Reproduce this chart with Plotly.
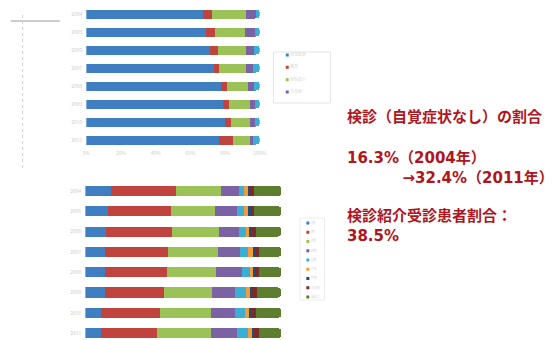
import plotly.graph_objects as go

# ---------------- data ----------------
years = ["2004", "2005", "2006", "2007", "2008", "2009", "2010", "2011"]

top_names = ["自覚症状", "検診", "他院紹介", "その他", "不明"]
top_colors = ["#3F7EC0", "#C0443D", "#9BC257", "#7A62A5", "#3AAFD3"]
top_s1 = [67.0, 69.0, 71.1, 73.4, 77.7, 79.0, 79.7, 76.5]
top_s2 = [5.4, 5.3, 4.9, 3.3, 3.5, 3.4, 3.6, 8.3]
top_s3 = [19.6, 17.3, 16.1, 15.4, 11.8, 12.0, 11.1, 9.6]
top_s4 = [5.7, 5.6, 4.7, 3.8, 3.8, 3.0, 3.0, 1.6]
top_s5 = [2.3, 2.8, 3.2, 4.1, 3.2, 2.6, 2.6, 4.0]
top_series = [top_s1, top_s2, top_s3, top_s4, top_s5]
top_legend_names = ["自覚症状", "検診", "他院紹介", "その他"]

bot_names = ["0期", "I期", "II期", "III期", "IV期", "再発", "不明", "その他", "未記入"]
bot_colors = ["#3F7EC0", "#C0443D", "#9BC257", "#7A62A5", "#3AAFD3",
              "#F39A3A", "#1F4D78", "#7A2B2A", "#5C7E2E"]
bot_s1 = [13.0, 11.4, 10.5, 9.9, 10.2, 9.9, 8.2, 7.9]
bot_s2 = [33.3, 32.1, 33.5, 32.2, 31.3, 30.2, 29.8, 28.4]
bot_s3 = [22.7, 22.5, 24.4, 25.6, 25.4, 24.4, 25.9, 27.7]
bot_s4 = [9.6, 11.3, 9.9, 11.2, 12.9, 12.1, 12.2, 13.3]
bot_s5 = [2.5, 3.8, 3.6, 3.9, 4.1, 5.3, 5.3, 5.5]
bot_s6 = [1.7, 1.7, 1.7, 2.5, 1.4, 2.5, 2.2, 2.5]
bot_s7 = [1.1, 1.6, 1.3, 1.3, 1.3, 0.5, 1.2, 0.8]
bot_s8 = [1.9, 1.7, 2.4, 2.0, 2.0, 2.9, 2.5, 2.5]
bot_s9 = [14.2, 13.9, 12.7, 11.4, 11.4, 12.2, 12.7, 11.4]
bot_series = [bot_s1, bot_s2, bot_s3, bot_s4, bot_s5, bot_s6, bot_s7, bot_s8, bot_s9]

x_ticks = [0, 20, 40, 60, 80, 100]
x_tick_labels = ["0%", "20%", "40%", "60%", "80%", "100%"]

text_blocks = [
    ["検診（自覚症状なし）の割合"],
    ["16.3%（2004年）", "　　　&nbsp;&nbsp;→32.4%（2011年）"],
    ["検診紹介受診患者割合：", "38.5%"],
]

# ---------------- figure ----------------
W, H = 553, 340
FONT = "Noto Sans CJK JP"
TXT_FONT = "DejaVu Sans, Noto Sans CJK JP"
fig = go.Figure()

for name, col, vals in zip(top_names, top_colors, top_series):
    fig.add_trace(go.Bar(y=years, x=vals, orientation="h", name=name,
                         marker=dict(color=col, line=dict(width=0)),
                         width=0.5, xaxis="x", yaxis="y", showlegend=False))

for name, col, vals in zip(bot_names, bot_colors, bot_series):
    fig.add_trace(go.Bar(y=years, x=vals, orientation="h", name=name,
                         marker=dict(color=col, line=dict(width=0)),
                         width=0.5, xaxis="x2", yaxis="y2", showlegend=False))

# manual legends (small markers)
n_top = len(top_legend_names)
fig.add_trace(go.Scatter(x=[0] * n_top, y=top_legend_names, mode="markers+text",
                         text=top_legend_names, textposition="middle right",
                         textfont=dict(size=4, color="#d4d4d4", family=FONT),
                         marker=dict(color=top_colors[:n_top], size=3, symbol="square"),
                         xaxis="x3", yaxis="y3", showlegend=False, hoverinfo="skip"))
fig.add_trace(go.Scatter(x=[0] * len(bot_names), y=bot_names, mode="markers+text",
                         text=bot_names, textposition="middle right",
                         textfont=dict(size=3, color="#d4d4d4", family=FONT),
                         marker=dict(color=bot_colors, size=3, symbol="square"),
                         xaxis="x4", yaxis="y4", showlegend=False, hoverinfo="skip"))

def px_x(p):
    return p / W

def px_y(p):
    return 1 - p / H

tickfont = dict(size=5, color="#cccccc", family=FONT)

fig.update_layout(
    width=W, height=H,
    margin=dict(l=0, r=0, t=0, b=0),
    paper_bgcolor="white", plot_bgcolor="white",
    barmode="stack", barcornerradius=4,
    font=dict(family=FONT),
    xaxis=dict(domain=[px_x(84), px_x(261)], range=[0, 100], tickvals=x_ticks,
               ticktext=x_tick_labels, tickfont=tickfont, showgrid=False, zeroline=False,
               showline=False, anchor="y", fixedrange=True),
    yaxis=dict(domain=[px_y(149), px_y(5)], type="category", range=[7.5, -0.5],
               tickfont=tickfont, showgrid=False, zeroline=False, showline=False,
               anchor="x", ticklabelstandoff=3),
    xaxis2=dict(domain=[px_x(83), px_x(283)], range=[0, 100], showticklabels=False,
                showgrid=False, zeroline=False, showline=False, anchor="y2"),
    yaxis2=dict(domain=[0, px_y(180.85)], type="category", range=[7.34, -0.5],
                tickfont=tickfont, showgrid=False, zeroline=False, showline=False,
                anchor="x2", ticklabelstandoff=3),
    xaxis3=dict(domain=[px_x(275), px_x(333)], range=[-14, 44], visible=False, anchor="y3"),
    yaxis3=dict(domain=[px_y(103), px_y(52)], type="category", range=[3.89, -0.24],
                visible=False, anchor="x3"),
    xaxis4=dict(domain=[px_x(302), px_x(327)], range=[-8, 17], visible=False, anchor="y4"),
    yaxis4=dict(domain=[px_y(300), px_y(218)], type="category", range=[8.32, -0.54],
                visible=False, anchor="x4"),
)

shapes = [
    dict(type="rect", xref="x3 domain", yref="y3 domain", x0=0, x1=1, y0=0, y1=1,
         line=dict(color="#e4e4e4", width=1)),
    dict(type="rect", xref="x4 domain", yref="y4 domain", x0=0, x1=1, y0=0, y1=1,
         line=dict(color="#ececec", width=1)),
    dict(type="line", xref="paper", yref="paper", x0=px_x(19), x1=px_x(19),
         y0=px_y(15), y1=px_y(170), line=dict(color="#cfcfcf", width=1, dash="dot")),
    dict(type="line", xref="paper", yref="paper", x0=px_x(7), x1=px_x(57),
         y0=px_y(21), y1=px_y(21), line=dict(color="#9a9a9a", width=1)),
]
fig.update_layout(shapes=shapes)

block_pos = [(348, 117), (348, 167.5), (348, 226)]
for lines, (tx, ty) in zip(text_blocks, block_pos):
    fig.add_annotation(x=px_x(tx), y=px_y(ty), xref="paper", yref="paper",
                       xanchor="left", yanchor="middle", align="left", showarrow=False,
                       text="<br>".join("<b>" + ln + "</b>" for ln in lines),
                       font=dict(size=15, color="#B0141C", family=TXT_FONT))

fig.write_html("out.html")
